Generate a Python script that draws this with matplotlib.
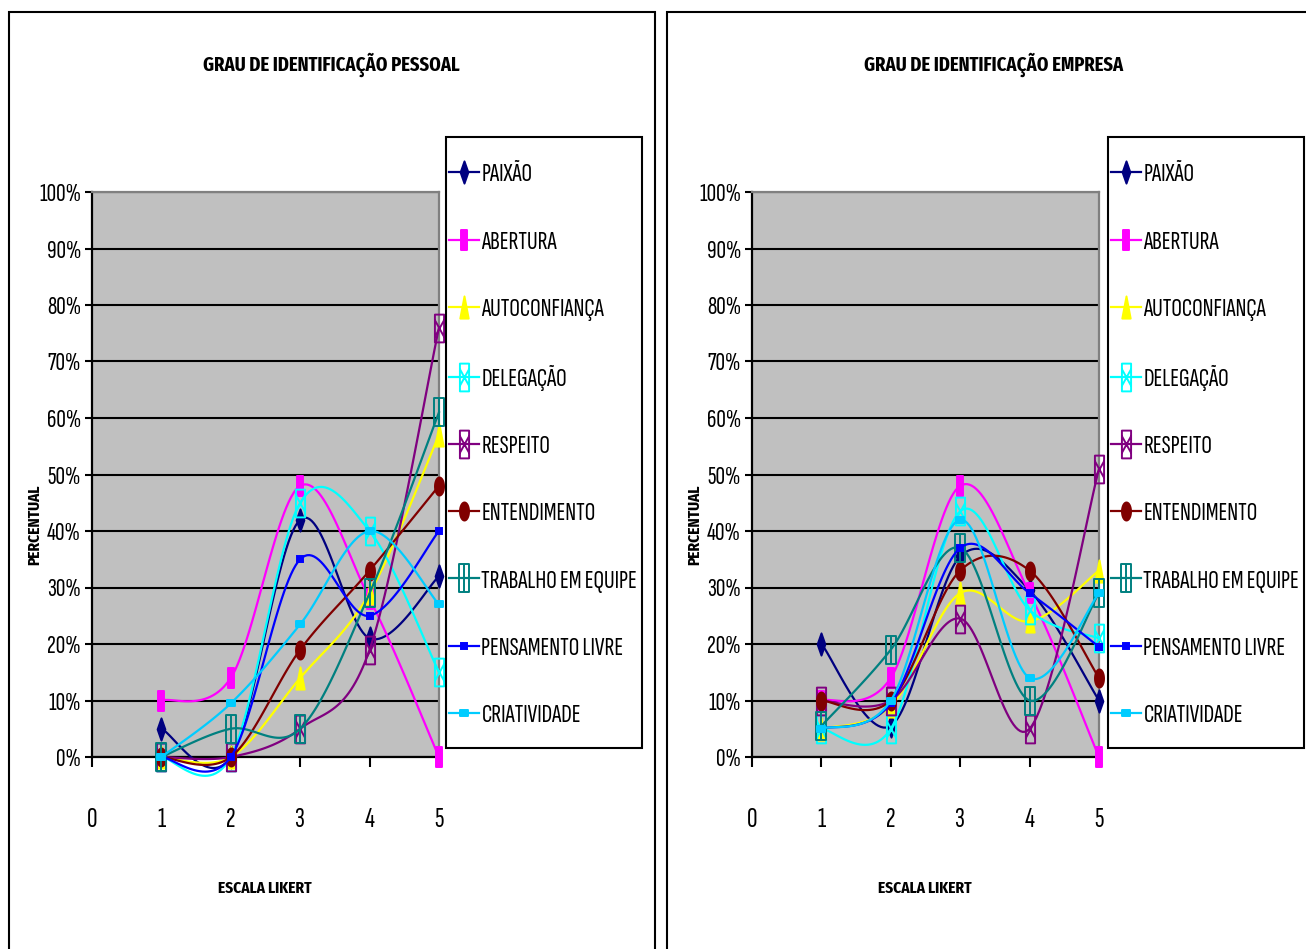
import numpy as np
import matplotlib
matplotlib.use("Agg")
import matplotlib.pyplot as plt
from matplotlib.path import Path
from matplotlib.patches import Rectangle

# ------------------------------------------------------------------
# data (percent per Likert point 1..5)
# ------------------------------------------------------------------
likert = [1, 2, 3, 4, 5]
series_names = ["PAIXÃO", "ABERTURA", "AUTOCONFIANÇA", "DELEGAÇÃO", "RESPEITO",
                "ENTENDIMENTO", "TRABALHO EM EQUIPE", "PENSAMENTO LIVRE", "CRIATIVIDADE"]

pessoal_paixao = [5, 0, 42, 21, 32]
pessoal_abertura = [10, 14, 48, 28, 0]
pessoal_autoconfianca = [0, 0, 14, 29, 57]
pessoal_delegacao = [0, 0, 45, 40, 15]
pessoal_respeito = [0, 0, 5, 19, 76]
pessoal_entendimento = [0, 0, 19, 33, 48]
pessoal_trabalho = [0, 5, 5, 29, 61]
pessoal_pensamento = [0, 0, 35, 25, 40]
pessoal_criatividade = [0, 9.5, 23.5, 40, 27]

empresa_paixao = [20, 5.5, 35.5, 29.5, 10]
empresa_abertura = [10, 14, 48, 29, 0]
empresa_autoconfianca = [5, 9, 29, 24, 33]
empresa_delegacao = [5, 5, 43.5, 26, 21]
empresa_respeito = [10, 10, 24.5, 5, 51]
empresa_entendimento = [10, 10, 33, 33, 14]
empresa_trabalho = [5.5, 19, 37, 10, 29]
empresa_pensamento = [5, 9.5, 37, 29, 19.5]
empresa_criatividade = [5, 10, 42, 14, 29]

pessoal = [pessoal_paixao, pessoal_abertura, pessoal_autoconfianca, pessoal_delegacao,
           pessoal_respeito, pessoal_entendimento, pessoal_trabalho, pessoal_pensamento,
           pessoal_criatividade]
empresa = [empresa_paixao, empresa_abertura, empresa_autoconfianca, empresa_delegacao,
           empresa_respeito, empresa_entendimento, empresa_trabalho, empresa_pensamento,
           empresa_criatividade]

colors = ["#000080", "#FF00FF", "#FFFF00", "#00FFFF", "#800080",
          "#800000", "#008080", "#0000FF", "#00CCFF"]

# narrow fonts, like the squeezed arial narrow of the original
plt.rcParams["font.family"] = ["Sofia Sans Extra Condensed", "Roboto Condensed", "DejaVu Sans"]
plt.rcParams["font.stretch"] = "condensed"
BOLD = ["Fira Sans Extra Condensed", "Roboto Condensed", "DejaVu Sans"]


# ------------------------------------------------------------------
# marker shapes (tall, like the stretched excel chart)
# ------------------------------------------------------------------
def closed(pts):
    return Path(pts + [pts[0]], [Path.MOVETO] + [Path.LINETO] * (len(pts) - 1) + [Path.CLOSEPOLY])


def box_path(w, h, inner):
    verts = [(-w, -h), (w, -h), (w, h), (-w, h), (-w, -h)]
    codes = [Path.MOVETO, Path.LINETO, Path.LINETO, Path.LINETO, Path.CLOSEPOLY]
    if inner == "x":
        verts += [(-w, -h * 0.6), (w, h * 0.6), (-w, h * 0.6), (w, -h * 0.6)]
        codes += [Path.MOVETO, Path.LINETO, Path.MOVETO, Path.LINETO]
    else:
        verts += [(0, -h), (0, h)]
        codes += [Path.MOVETO, Path.LINETO]
    return Path(verts, codes)


theta = np.linspace(0, 2 * np.pi, 40, endpoint=False)
ellipse = closed([(0.5 * np.cos(t), np.sin(t)) for t in theta])

markers = [
    dict(marker=closed([(0, 1), (0.35, 0), (0, -1), (-0.35, 0)]), ms=16, mfc="#000080"),
    dict(marker=closed([(-0.32, -1), (0.32, -1), (0.32, 1), (-0.32, 1)]), ms=14, mfc="#FF00FF"),
    dict(marker=closed([(0, 1), (0.38, -1), (-0.38, -1)]), ms=16, mfc="#FFFF00"),
    dict(marker=box_path(0.33, 1, "x"), ms=20, mfc="none"),
    dict(marker=box_path(0.33, 1, "x"), ms=20, mfc="none"),
    dict(marker=ellipse, ms=13, mfc="#800000"),
    dict(marker=box_path(0.33, 1, "|"), ms=20, mfc="none"),
    dict(marker="s", ms=4, mfc="#0000FF"),
    dict(marker=closed([(-1, -0.7), (1, -0.7), (1, 0.7), (-1, 0.7)]), ms=6, mfc="#00CCFF"),
]


def excel_smooth(xs, ys, n=30):
    # bezier smoothing like excel "smoothed line"
    P = np.column_stack([xs, ys]).astype(float)
    pts = []
    for i in range(len(P) - 1):
        p0 = P[i - 1] if i > 0 else P[i]
        p1, p2 = P[i], P[i + 1]
        p3 = P[i + 2] if i + 2 < len(P) else P[i + 1]
        c1 = p1 + (p2 - p0) / 6
        c2 = p2 - (p3 - p1) / 6
        t = np.linspace(0, 1, n, endpoint=False)[:, None]
        pts.append((1 - t) ** 3 * p1 + 3 * (1 - t) ** 2 * t * c1 + 3 * (1 - t) * t ** 2 * c2 + t ** 3 * p2)
    pts.append(P[-1:])
    out = np.vstack(pts)
    return out[:, 0], out[:, 1], list(range(0, len(out), n))


W, H = 1306, 949
fig = plt.figure(figsize=(W / 100, H / 100), dpi=100)


def fx(px):
    return px / W


def fy(py):
    return 1 - py / H


def frame(x_left, y_top, x_right, y_bottom):
    fig.patches.append(Rectangle((fx(x_left), fy(y_bottom)), fx(x_right - x_left), fy(y_top) - fy(y_bottom),
                                 transform=fig.transFigure, fill=False, edgecolor="black",
                                 linewidth=1.5, clip_on=False, zorder=20))


# panel frames
frame(9, 12, 655, 1000)
frame(667, 12, 1400, 1000)


def draw_chart(x0, data, title, title_x, leg_x):
    ax = fig.add_axes([fx(x0), fy(757), fx(347), fy(192) - fy(757)])
    ax.set_facecolor("#C0C0C0")
    ax.set_xlim(0, 5)
    ax.set_ylim(0, 1)
    ax.set_yticks(np.arange(0, 1.01, 0.1))
    ax.set_yticklabels([f"{int(round(v * 100))}%" for v in np.arange(0, 1.01, 0.1)], fontsize=19)
    ax.set_xticks(range(6))
    ax.set_xticklabels([str(i) for i in range(6)], fontsize=21)
    ax.tick_params(axis="y", direction="out", length=5, width=1.5, pad=3)
    ax.tick_params(axis="x", direction="out", length=7, width=1.5, pad=30)
    ax.grid(axis="y", color="black", linewidth=1.5)
    ax.set_axisbelow(True)
    for s in ["left", "bottom"]:
        ax.spines[s].set_color("black")
        ax.spines[s].set_linewidth(1.6)
    for s in ["top", "right"]:
        ax.spines[s].set_color("#808080")
        ax.spines[s].set_linewidth(1.6)

    for i, vals in enumerate(data):
        xs, ys, idx = excel_smooth(likert, np.array(vals) / 100)
        m = markers[i]
        ax.plot(xs, ys, color=colors[i], linewidth=1.6, marker=m["marker"], markersize=m["ms"],
                markerfacecolor=m["mfc"], markeredgecolor=colors[i], markeredgewidth=1.4,
                markevery=idx, label=series_names[i], clip_on=False, zorder=3 + i)

    # legend entries, with the box drawn separately like excel's
    ax.legend(loc="upper left", bbox_to_anchor=(fx(leg_x + 3), fy(163)),
              bbox_transform=fig.transFigure, fontsize=19, frameon=False,
              borderpad=0, labelspacing=1.66, handlelength=1.15,
              handletextpad=0.08, borderaxespad=0)
    frame(leg_x, 137, leg_x + 196, 748)

    fig.text(title_x, fy(65), title, ha="center", va="center", fontsize=14.5,
             fontweight="bold", family=BOLD)
    fig.text(fx(x0 + 173), fy(888), "ESCALA LIKERT", ha="center", va="center",
             fontsize=12, fontweight="bold", family=BOLD)
    fig.text(fx(x0 - 57), fy(525), "PERCENTUAL", ha="center", va="center", rotation=90,
             fontsize=12, fontweight="bold", family=BOLD)
    return ax


draw_chart(92, pessoal, "GRAU DE IDENTIFICAÇÃO PESSOAL", fx(331), 446)
draw_chart(752, empresa, "GRAU DE IDENTIFICAÇÃO EMPRESA", fx(994), 1108)

fig.savefig("out.png", dpi=100)
